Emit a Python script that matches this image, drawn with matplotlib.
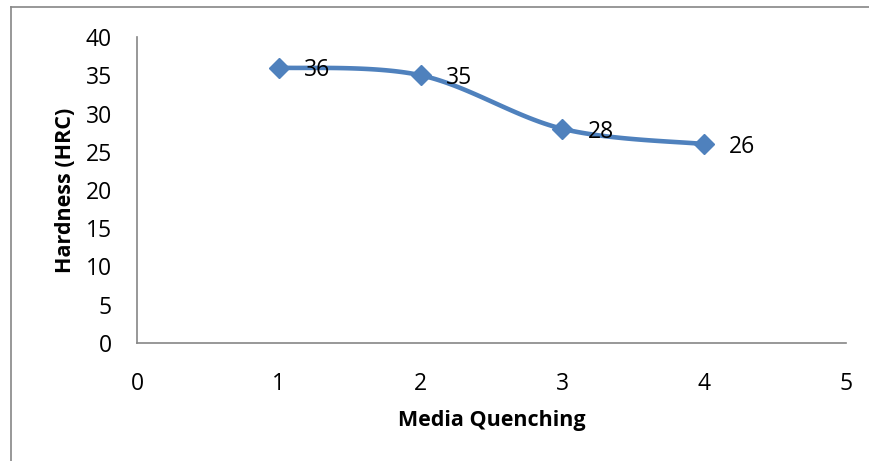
import matplotlib.pyplot as plt
import numpy as np
from matplotlib.lines import Line2D

plt.rcParams['font.family'] = ['Open Sans', 'DejaVu Sans']

media = [1, 2, 3, 4]
hardness = [36, 35, 28, 26]
labels = ['36', '35', '28', '26']

blue = '#4F81BD'


def smooth(xs, ys, n=40):
    # Excel-like smoothed line: Bezier segments with 1/6 tangents
    px = np.array([xs[0]] + list(xs) + [xs[-1]], dtype=float)
    py = np.array([ys[0]] + list(ys) + [ys[-1]], dtype=float)
    out_x, out_y = [], []
    t = np.linspace(0, 1, n)
    for i in range(1, len(px) - 2):
        p0 = np.array([px[i], py[i]])
        p3 = np.array([px[i + 1], py[i + 1]])
        c1 = p0 + (p3 - np.array([px[i - 1], py[i - 1]])) / 6
        c2 = p3 - (np.array([px[i + 2], py[i + 2]]) - p0) / 6
        b = ((1 - t) ** 3)[:, None] * p0 + (3 * (1 - t) ** 2 * t)[:, None] * c1 \
            + (3 * (1 - t) * t ** 2)[:, None] * c2 + (t ** 3)[:, None] * p3
        out_x.extend(b[:, 0])
        out_y.extend(b[:, 1])
    return out_x, out_y


fig = plt.figure(figsize=(8.7, 4.61), dpi=100)
ax = fig.add_axes([0.1575, 0.256, 0.815, 0.6637])

sx, sy = smooth(media, hardness)
ax.plot(sx, sy, color=blue, lw=3.3, solid_capstyle='round')
ax.plot(media, hardness, ls='none', marker='D', ms=10.5, color=blue)

for x, y, s in zip(media, hardness, labels):
    ax.annotate(s, (x, y), xytext=(18, -2), textcoords='offset points',
                va='center', ha='left', fontsize=16.5)

ax.set_xlim(0, 5)
ax.set_ylim(0, 40)
ax.set_xticks(range(0, 6))
ax.set_yticks(range(0, 41, 5))
ax.tick_params(axis='y', length=0, labelsize=16.5, pad=18)
ax.tick_params(axis='x', length=0, labelsize=16.5, pad=21)
for side in ['top', 'right']:
    ax.spines[side].set_visible(False)
for side in ['left', 'bottom']:
    ax.spines[side].set_color('#868686')
    ax.spines[side].set_linewidth(1.2)

ax.set_xlabel('Media Quenching', fontsize=15.5, fontweight='bold', labelpad=10)
ax.set_ylabel('Hardness (HRC)', fontsize=15.5, fontweight='bold', labelpad=7)

# outer chart border (left and top edges visible)
fig.add_artist(Line2D([11 / 870, 11 / 870], [0, 1 - 7 / 461], color='#868686', lw=1.2,
                      transform=fig.transFigure))
fig.add_artist(Line2D([11 / 870, 1], [1 - 7 / 461, 1 - 7 / 461], color='#868686', lw=1.2,
                      transform=fig.transFigure))

fig.savefig('out.png', dpi=100)
